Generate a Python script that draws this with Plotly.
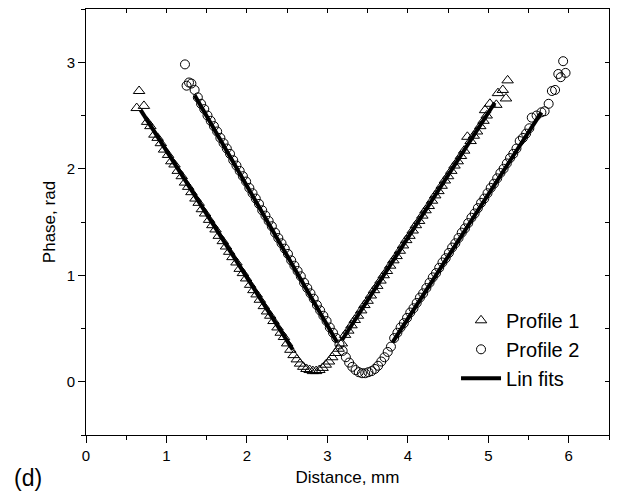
import plotly.graph_objects as go

# Profile 1 (triangles)
p1_x = [0.63, 0.66, 0.72, 0.76, 0.80, 0.85, 0.89, 0.93, 0.97, 1.02, 1.06, 1.10, 1.14, 1.19,
        1.23, 1.27, 1.31, 1.36, 1.40, 1.44, 1.48, 1.53, 1.57, 1.61, 1.65, 1.70, 1.74, 1.78,
        1.82, 1.87, 1.91, 1.95, 1.99, 2.04, 2.08, 2.12, 2.16, 2.21, 2.25, 2.29, 2.33, 2.38,
        2.42, 2.46, 2.50, 2.54, 2.58, 2.62, 2.66, 2.70, 2.74, 2.78, 2.82, 2.86, 2.90, 2.94,
        2.98, 3.02, 3.06, 3.10, 3.14, 3.18, 3.22, 3.26, 3.30, 3.34, 3.38, 3.42, 3.46, 3.50,
        3.54, 3.58, 3.62, 3.66, 3.70, 3.74, 3.78, 3.82, 3.86, 3.90, 3.94, 3.98, 4.02, 4.06,
        4.10, 4.14, 4.18, 4.22, 4.26, 4.30, 4.34, 4.38, 4.42, 4.46, 4.50, 4.54, 4.58, 4.62,
        4.66, 4.70, 4.74, 4.78, 4.82, 4.86, 4.90, 4.94, 4.96, 4.98, 5.02, 5.10, 5.12, 5.18,
        5.22, 5.24]
p1_y = [2.57, 2.73, 2.59, 2.44, 2.40, 2.32, 2.29, 2.24, 2.18, 2.13, 2.07, 2.04, 1.98, 1.93,
        1.87, 1.83, 1.78, 1.72, 1.68, 1.62, 1.58, 1.52, 1.47, 1.43, 1.37, 1.32, 1.27, 1.22,
        1.17, 1.12, 1.06, 1.02, 0.97, 0.91, 0.86, 0.82, 0.77, 0.71, 0.66, 0.62, 0.57, 0.51,
        0.46, 0.42, 0.36, 0.30, 0.25, 0.21, 0.17, 0.14, 0.12, 0.11, 0.10, 0.10, 0.11, 0.13,
        0.16, 0.19, 0.23, 0.27, 0.31, 0.36, 0.44, 0.48, 0.53, 0.58, 0.62, 0.67, 0.72, 0.76,
        0.81, 0.86, 0.90, 0.95, 1.00, 1.04, 1.09, 1.14, 1.18, 1.23, 1.28, 1.33, 1.37, 1.42,
        1.47, 1.51, 1.56, 1.61, 1.65, 1.70, 1.75, 1.79, 1.84, 1.89, 1.93, 1.98, 2.03, 2.07,
        2.12, 2.17, 2.30, 2.26, 2.31, 2.35, 2.40, 2.45, 2.55, 2.50, 2.61, 2.60, 2.71, 2.74,
        2.66, 2.83]

# Profile 2 (circles)
p2_x = [1.23, 1.25, 1.28, 1.31, 1.35, 1.39, 1.43, 1.47, 1.51, 1.55, 1.59, 1.63, 1.67, 1.71,
        1.75, 1.79, 1.83, 1.87, 1.91, 1.95, 1.99, 2.03, 2.07, 2.11, 2.15, 2.19, 2.23, 2.27,
        2.31, 2.35, 2.39, 2.43, 2.47, 2.51, 2.55, 2.59, 2.63, 2.67, 2.71, 2.75, 2.79, 2.83,
        2.87, 2.91, 2.95, 2.99, 3.03, 3.07, 3.11, 3.15, 3.19, 3.23, 3.27, 3.31, 3.35, 3.39,
        3.43, 3.47, 3.51, 3.55, 3.59, 3.63, 3.67, 3.71, 3.75, 3.79, 3.83, 3.87, 3.91, 3.95,
        3.99, 4.03, 4.07, 4.11, 4.15, 4.19, 4.23, 4.27, 4.31, 4.35, 4.39, 4.43, 4.47, 4.51,
        4.55, 4.59, 4.63, 4.67, 4.71, 4.75, 4.79, 4.83, 4.87, 4.91, 4.95, 4.99, 5.03, 5.07,
        5.11, 5.15, 5.19, 5.23, 5.27, 5.31, 5.35, 5.39, 5.43, 5.47, 5.51, 5.54, 5.60, 5.66,
        5.70, 5.75, 5.79, 5.83, 5.87, 5.90, 5.93, 5.96]
p2_y = [2.98, 2.78, 2.81, 2.80, 2.74, 2.67, 2.61, 2.56, 2.50, 2.45, 2.40, 2.35, 2.29, 2.24,
        2.19, 2.14, 2.08, 2.03, 1.98, 1.93, 1.88, 1.82, 1.77, 1.72, 1.67, 1.61, 1.56, 1.51,
        1.46, 1.40, 1.35, 1.30, 1.25, 1.20, 1.14, 1.09, 1.04, 0.99, 0.93, 0.88, 0.83, 0.78,
        0.72, 0.67, 0.62, 0.57, 0.51, 0.46, 0.41, 0.35, 0.29, 0.23, 0.18, 0.14, 0.11, 0.09,
        0.08, 0.08, 0.09, 0.10, 0.12, 0.15, 0.19, 0.23, 0.28, 0.33, 0.41, 0.46, 0.51, 0.55,
        0.60, 0.65, 0.69, 0.74, 0.79, 0.83, 0.88, 0.93, 0.98, 1.02, 1.07, 1.12, 1.16, 1.21,
        1.26, 1.30, 1.35, 1.40, 1.44, 1.49, 1.54, 1.58, 1.63, 1.68, 1.72, 1.77, 1.82, 1.86,
        1.91, 1.96, 2.00, 2.05, 2.10, 2.14, 2.19, 2.26, 2.29, 2.33, 2.38, 2.48, 2.50, 2.53,
        2.54, 2.61, 2.73, 2.74, 2.89, 2.86, 3.01, 2.90]

# Linear fits (segment end points)
fit_x = [0.68, 2.57, None, 1.35, 3.12, None, 3.18, 5.08, None, 3.81, 5.66]
fit_y = [2.55, 0.30, None, 2.69, 0.37, None, 0.39, 2.62, None, 0.37, 2.53]

x_range = [0, 6.5]
y_range = [-0.5, 3.5]

FONT = "Liberation Sans, Arial, sans-serif"

fig = go.Figure()
fig.add_trace(go.Scatter(x=p1_x, y=p1_y, mode="markers", name="Profile 1",
                         marker=dict(symbol="triangle-up-open", size=10, color="black",
                                     line=dict(width=1, color="black"))))
fig.add_trace(go.Scatter(x=p2_x, y=p2_y, mode="markers", name="Profile 2",
                         marker=dict(symbol="circle-open", size=9, color="black",
                                     line=dict(width=1, color="black"))))
fig.add_trace(go.Scatter(x=fit_x, y=fit_y, mode="lines", name="Lin fits",
                         line=dict(color="black", width=4), connectgaps=False))
# invisible trace to anchor mirror axes (top/right inner ticks)
fig.add_trace(go.Scatter(x=[None], y=[None], xaxis="x2", yaxis="y2",
                         showlegend=False, hoverinfo="skip"))

axis_common = dict(showgrid=False, zeroline=False, showline=True, linecolor="black",
                   linewidth=1, ticks="outside", ticklen=7, tickwidth=1, tickcolor="black",
                   tickfont=dict(family=FONT, size=15, color="black"), dtick=1,
                   automargin=False)

# the page body adds an 8px offset, so the figure is 8px smaller than the window
fig.update_layout(
    width=610, height=489,
    margin=dict(l=78, r=9, t=1, b=62, autoexpand=False),
    paper_bgcolor="white", plot_bgcolor="white",
    font=dict(family=FONT, color="black"),
    xaxis=dict(range=x_range, tick0=0, mirror=True,
               minor=dict(dtick=0.5, ticklen=4, ticks="outside", tickcolor="black"),
               title=dict(text="Distance, mm", font=dict(family=FONT, size=17), standoff=8),
               **axis_common),
    yaxis=dict(range=y_range, tick0=0, mirror=True,
               minor=dict(dtick=0.5, ticklen=4, ticks="outside", tickcolor="black"),
               title=dict(text="Phase, rad", font=dict(family=FONT, size=17), standoff=6),
               **axis_common),
    xaxis2=dict(range=x_range, overlaying="x", side="top", showgrid=False, zeroline=False,
                showticklabels=False, ticks="inside", ticklen=4, dtick=0.5, tick0=0,
                tickcolor="black", showline=False, automargin=False),
    yaxis2=dict(range=y_range, overlaying="y", side="right", showgrid=False, zeroline=False,
                showticklabels=False, ticks="inside", ticklen=4, dtick=0.5, tick0=0,
                tickcolor="black", showline=False, automargin=False),
    legend=dict(x=0.7075, y=0.315, xanchor="left", yanchor="top",
                font=dict(family=FONT, size=20, color="black"),
                bgcolor="rgba(0,0,0,0)", tracegroupgap=0, itemwidth=40),
    showlegend=True,
)

fig.add_annotation(text="(d)", xref="paper", yref="paper", x=-0.1415, y=-0.101,
                   xanchor="left", yanchor="middle", showarrow=False,
                   font=dict(family=FONT, size=23, color="black"))

fig.write_html("out.html")
